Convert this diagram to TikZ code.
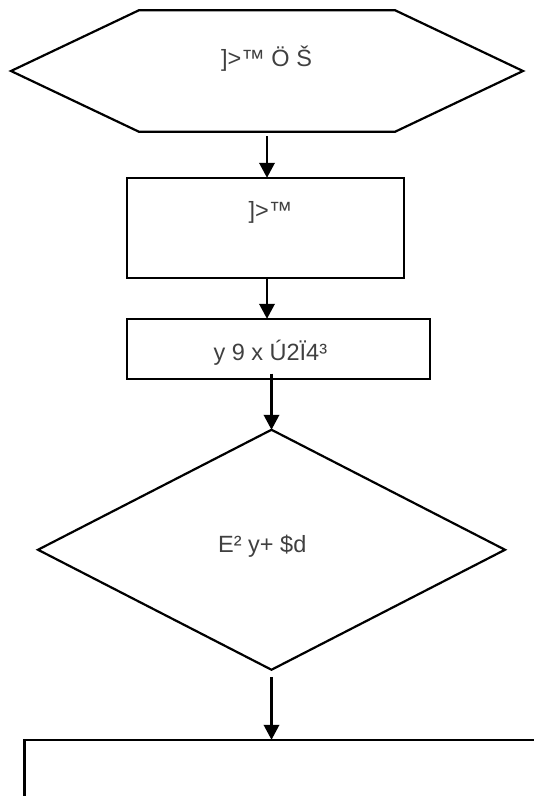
\documentclass[tikz,border=0pt]{standalone}
\usepackage{fontspec}
\setmainfont{Liberation Sans}
\usetikzlibrary{shapes, shapes.geometric, shapes.symbols, arrows.meta, positioning}
\definecolor{txtgray}{HTML}{404040}
\tikzstyle{block} = [rectangle, draw, fill=white, line width=2.2pt, inner sep=0pt, outer sep=0pt]
\tikzstyle{hexa} = [signal, signal to=west and east, signal pointer angle=50.8, draw, fill=white,
line width=2.2pt, inner sep=0pt, outer sep=0pt, minimum width=512pt, minimum height=121.5pt]
\tikzstyle{decision} = [diamond, draw, fill=white, line width=2.2pt, inner sep=0pt, outer sep=0pt,
minimum width=467pt, minimum height=240pt]
\tikzstyle{txt} = [text=txtgray, font=\fontsize{23.5}{28}\selectfont, inner sep=0pt, anchor=base west]
\tikzstyle{line} = [draw, line width=2.2pt, -{Triangle[length=15pt, width=15.5pt]}]

\begin{document}
\begin{tikzpicture}[x=1pt, y=-1pt]
	\useasboundingbox (0,0) rectangle (534,796);
	\clip (0,0) rectangle (534,796);
	
	% Place nodes
	\node [hexa] 											(Start)		at (267,71) {};
	\node [block, minimum width=277pt, minimum height=100pt, below=46pt of Start, xshift=-1.5pt] 	(Read)		{};
	\node [block, minimum width=303pt, minimum height=60.5pt, below=41pt of Read, xshift=13pt] 	(Calc)		{};
	\node [decision, below=50.5pt of Calc, xshift=-7pt] 		(Check)		{};
	\node [block, minimum width=600pt, minimum height=200pt, below=70pt of Check, xshift=53pt] 	(Output)	{};
	
	% Texts
	\node [txt] (Start Text)	at ([xshift=-46pt, yshift=5pt]Start.center)		{]>™ Ö Š};
	\node [txt] (Read Text)		at ([xshift=-17.2pt, yshift=9.5pt]Read.center)	{]>™};
	\node [txt] (Calc Text)		at ([xshift=-65.2pt, yshift=-11.75pt]Calc.center)	{y 9 x Ú2Ï4³};
	\node [txt] (Check Text)	at ([xshift=-53.5pt, yshift=-3pt]Check.center)	{E² y+ \$d};
	
	%Draw edges
	\path [line] ([yshift=-4.7pt]Start.south)		-- (Start.south |- Read.north);
	\path [line] (Start.south |- Read.south)		-- (Start.south |- Calc.north);
	\path [line] ([yshift=5.7pt]Calc.south -| Check.north)	-- (Check.north);
	\path [line] ([yshift=-7pt]Check.south)		-- (Check.south |- Output.north);
	
\end{tikzpicture}
\end{document}
